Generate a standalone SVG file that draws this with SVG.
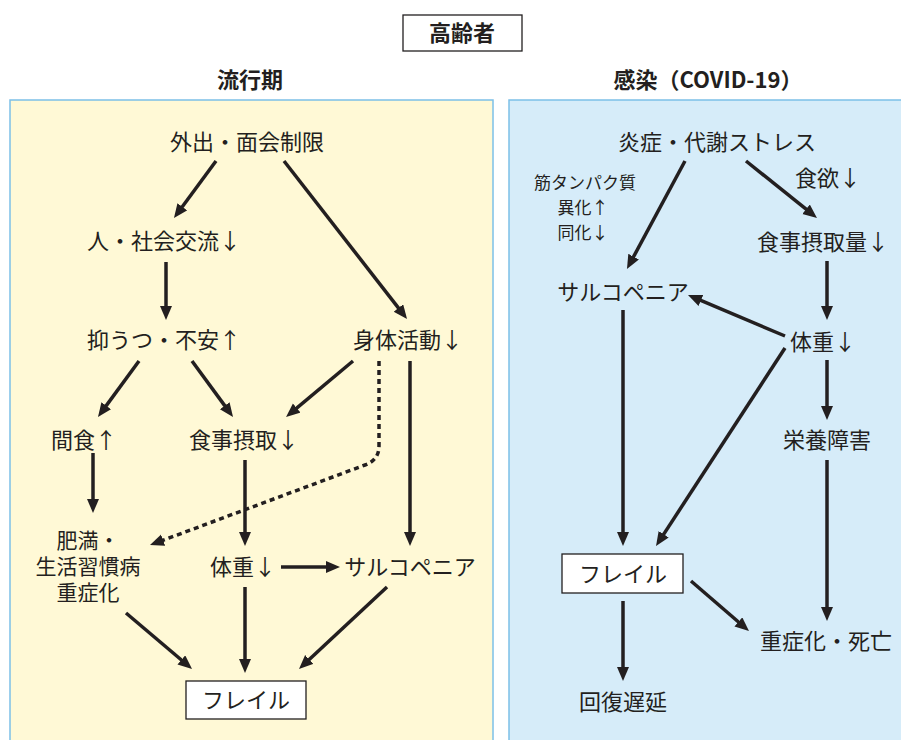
<svg xmlns="http://www.w3.org/2000/svg" width="901" height="740" viewBox="0 0 901 740">
<defs>
<marker id="ah" markerUnits="userSpaceOnUse" markerWidth="16" markerHeight="14" refX="4" refY="6" orient="auto">
<path d="M0,0 L14,6 L0,12 z" fill="#231F20"/>
</marker>
<style>
text{font-family:"Noto Sans CJK JP","Noto Sans",sans-serif;fill:#231F20;text-anchor:middle;font-size:22px}
.h{font-weight:bold;font-size:22px}
.s{font-size:17px}
.m{font-size:21px}
.c line,.c path{stroke:#231F20;stroke-width:3.5;fill:none;marker-end:url(#ah)}
.box{fill:#fff;stroke:#231F20;stroke-width:1.3}
</style>
</defs>
<rect width="901" height="740" fill="#fff"/>
<g id="title"><rect class="box" x="403" y="15" width="119" height="36"/><text class="h" x="462" y="41">高齢者</text></g>
<g id="panel-left"><rect x="10" y="100" width="483" height="645" fill="#FFF9D6" stroke="#7CC0E8" stroke-width="1.5"/><text class="h" x="250" y="88">流行期</text></g>
<g id="panel-right"><rect x="509" y="100" width="400" height="645" fill="#D6ECF9" stroke="#7CC0E8" stroke-width="1.5"/><text class="h" x="708" y="88">感染（COVID-19）</text></g>

<g id="n-gaishutsu"><text x="247" y="150">外出・面会制限</text></g>
<g id="n-koryu"><text x="164" y="249">人・社会交流↓</text></g>
<g id="n-yokuutsu"><text x="164" y="348">抑うつ・不安↑</text></g>
<g id="n-shintai"><text x="408" y="348">身体活動↓</text></g>
<g id="n-kanshoku"><text x="84" y="448">間食↑</text></g>
<g id="n-shokuji"><text x="244" y="448">食事摂取↓</text></g>
<g id="n-himan"><text class="m" x="88" y="548"><tspan x="88" y="548">肥満・</tspan><tspan x="88" y="574">生活習慣病</tspan><tspan x="88" y="600">重症化</tspan></text></g>
<g id="n-taiju-l"><text x="243" y="575">体重↓</text></g>
<g id="n-sarco-l"><text x="410" y="575">サルコペニア</text></g>
<g id="n-frail-l"><rect class="box" x="186" y="681" width="120" height="38"/><text x="246" y="708" font-size="23">フレイル</text></g>

<g id="n-ensho"><text x="717" y="150">炎症・代謝ストレス</text></g>
<g id="n-shokuyoku"><text x="828" y="186">食欲↓</text></g>
<g id="n-kin"><text class="s" x="585" y="189"><tspan x="585" y="189">筋タンパク質</tspan><tspan x="583" y="214">異化↑</tspan><tspan x="583" y="239">同化↓</tspan></text></g>
<g id="n-shokujiryo"><text x="823" y="250">食事摂取量↓</text></g>
<g id="n-sarco-r"><text x="623" y="300">サルコペニア</text></g>
<g id="n-taiju-r"><text x="823" y="350">体重↓</text></g>
<g id="n-eiyo"><text x="827" y="448">栄養障害</text></g>
<g id="n-frail-r"><rect class="box" x="562" y="554" width="121" height="39"/><text x="623" y="582" font-size="23">フレイル</text></g>
<g id="n-jusho"><text x="826" y="649">重症化・死亡</text></g>
<g id="n-kaifuku"><text x="623" y="710">回復遅延</text></g>

<g id="connectors" class="c">
<line x1="216" y1="161" x2="179.9" y2="210"/>
<line x1="284" y1="161" x2="400.9" y2="311.1"/>
<line x1="166" y1="262" x2="166" y2="310"/>
<line x1="139" y1="361" x2="103.9" y2="408.9"/>
<line x1="192" y1="361" x2="227.1" y2="408.9"/>
<line x1="353" y1="361" x2="293.7" y2="410.6"/>
<path d="M379,361 L379,446 Q379,460 365,465 L159.4,541.6" stroke-dasharray="5 4"/>
<line x1="410" y1="361" x2="410" y2="536"/>
<line x1="93" y1="453" x2="93" y2="503"/>
<line x1="245" y1="460" x2="245" y2="536"/>
<line x1="281" y1="567" x2="330" y2="567"/>
<line x1="126" y1="613" x2="184.4" y2="662.5"/>
<line x1="245" y1="587" x2="245" y2="663"/>
<line x1="387" y1="587" x2="306.3" y2="662.2"/>
<line x1="685" y1="161" x2="631.7" y2="260.2"/>
<line x1="746" y1="161" x2="809.2" y2="211.7"/>
<line x1="827" y1="261" x2="827" y2="310"/>
<line x1="785" y1="336" x2="697.2" y2="298.9"/>
<line x1="623" y1="310" x2="623" y2="536"/>
<line x1="785" y1="348" x2="661.5" y2="537.6"/>
<line x1="827" y1="360" x2="827" y2="410"/>
<line x1="827" y1="460" x2="827" y2="611"/>
<line x1="623" y1="601" x2="623" y2="671"/>
<line x1="691" y1="581" x2="741.4" y2="624.5"/>
</g>
</svg>
